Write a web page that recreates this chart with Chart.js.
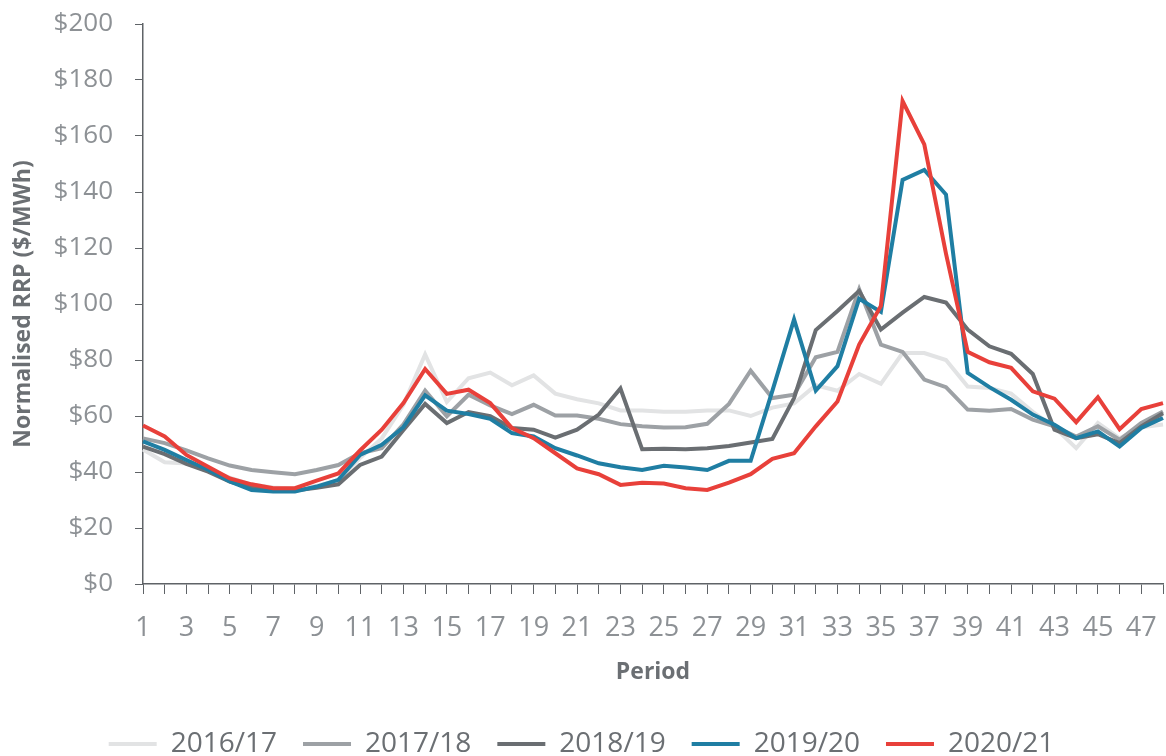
<!DOCTYPE html>
<html>
<head>
<meta charset="utf-8">
<script src="https://cdn.jsdelivr.net/npm/chart.js@4"></script>
<style>
  html, body { margin: 0; padding: 0; background: #fff; }
  #wrap { width: 1166px; height: 756px; }
</style>
</head>
<body>
<div id="wrap"><canvas id="myChart" width="1166" height="756"></canvas></div>
<script>
const periods = [];
for (let i = 1; i <= 48; i++) periods.push(String(i));

const seriesNames = ['2016/17', '2017/18', '2018/19', '2019/20', '2020/21'];
const seriesColors = ['#e2e3e4', '#9da1a5', '#6a6e72', '#1f7ea3', '#e8403a'];
const yTicks = [0, 20, 40, 60, 80, 100, 120, 140, 160, 180, 200];

const p1617 = [48, 43.5, 43, 41, 38, 35.5, 34.5, 34, 35, 37,
  45, 52, 64, 82, 65, 73.5, 75.5, 71, 74.5, 68,
  66, 64.5, 62, 62, 61.5, 61.5, 62, 62, 60, 63,
  64.5, 71, 69, 75, 71.5, 82.5, 82.5, 80, 70.5, 70,
  68, 61.5, 56, 48.5, 57.5, 52, 56, 57];
const p1718 = [52, 50.3, 47.7, 44.9, 42.3, 40.7, 39.9, 39.2, 40.7, 42.5,
  46.7, 48.5, 57, 69.1, 59.9, 67.6, 63.8, 60.7, 64, 60.2,
  60.2, 59, 57.1, 56.3, 55.9, 56, 57.2, 64.3, 76.2, 66.4,
  67.6, 81, 82.9, 105.3, 85.5, 82.9, 73, 70.3, 62.3, 61.9,
  62.5, 58.7, 56.3, 52.7, 56.3, 51.5, 57.5, 61.6];
const p1819 = [49.1, 46.4, 42.9, 40.1, 36.6, 34.4, 33.4, 33.4, 34.4, 35.6,
  42.5, 45.5, 55, 64.3, 57.5, 61.4, 59.9, 55.7, 55.1, 52.3,
  55.1, 60.5, 69.8, 48.1, 48.3, 48.1, 48.5, 49.3, 50.5, 51.8,
  66.4, 90.7, 97.5, 104.7, 90.9, 96.9, 102.5, 100.5, 90.9, 84.9,
  82.2, 75, 55.1, 52.1, 53.5, 50.3, 56.3, 61];
const p1920 = [50.9, 47.9, 44.3, 40.8, 36.6, 33.6, 33, 33, 34.8, 37.2,
  46.1, 49.7, 56, 67.4, 61.9, 60.7, 59, 53.9, 52.7, 48.5,
  45.9, 43.1, 41.7, 40.7, 42.2, 41.6, 40.7, 44, 44, 69,
  94.5, 69.1, 77.8, 101.9, 97.2, 144.3, 147.9, 139.1, 75.4, 70.3,
  65.8, 60.5, 56.9, 52.1, 54.5, 49.1, 55.7, 59.3];
const p2021 = [56.6, 52.7, 46.1, 41.9, 37.7, 35.6, 34.2, 34.2, 36.9, 39.5,
  47.7, 55.1, 64.6, 76.8, 67.9, 69.4, 64.6, 55.7, 52.1, 46.7,
  41.3, 39.2, 35.4, 36.2, 35.9, 34.2, 33.6, 36.2, 39.2, 44.7,
  46.7, 56.3, 65.2, 85.5, 99.3, 172.5, 157, 118, 82.9, 79.2,
  77.2, 68.8, 66.2, 57.8, 66.7, 55.3, 62.5, 64.6];

const allSeries = [p1617, p1718, p1819, p1920, p2021];

const axisColor = '#5f6367';
const tickColor = '#8d9195';
const titleColor = '#6b6f73';

const datasets = allSeries.map((vals, i) => ({
  label: seriesNames[i],
  data: vals,
  borderColor: seriesColors[i],
  backgroundColor: seriesColors[i],
  borderWidth: 4,
  pointRadius: 0,
  pointStyle: 'line',
  tension: 0,
  order: seriesNames.length - i
}));

const ctx = document.getElementById('myChart').getContext('2d');
new Chart(ctx, {
  type: 'line',
  data: { labels: periods, datasets: datasets },
  options: {
    responsive: false,
    animation: false,
    layout: { padding: { top: 24, right: 3, left: 0, bottom: -12 } },
    plugins: {
      tooltip: { enabled: false },
      legend: {
        position: 'bottom',
        labels: {
          usePointStyle: true,
          pointStyleWidth: 48,
          padding: 26,
          color: titleColor,
          font: { family: 'Open Sans', size: 28 },
          sort: (a, b) => a.datasetIndex - b.datasetIndex
        }
      }
    },
    scales: {
      x: {
        offset: false,
        grid: { display: true, drawOnChartArea: false, drawTicks: true, tickLength: 10, color: axisColor, lineWidth: 1 },
        border: { display: true, color: axisColor, width: 1.5 },
        ticks: {
          autoSkip: false,
          maxRotation: 0,
          padding: 18,
          color: tickColor,
          font: { family: 'Open Sans', size: 27 },
          callback: (v, i) => (i % 2 === 0 ? periods[i] : '')
        },
        title: {
          display: true,
          text: 'Period',
          color: titleColor,
          font: { family: 'Open Sans', size: 23, weight: 'bold' },
          padding: { top: 10, bottom: 18 }
        },
        afterFit: (scale) => {
          scale.height = 120;
          scale.paddingLeft = 0;
          scale.paddingRight = 0;
        }
      },
      y: {
        min: 0,
        max: 200,
        afterBuildTicks: (scale) => { scale.ticks = yTicks.map(v => ({ value: v })); },
        grid: { display: true, drawOnChartArea: false, drawTicks: true, tickLength: 8, color: axisColor, lineWidth: 1 },
        border: { display: true, color: axisColor, width: 1.5 },
        ticks: {
          padding: 22,
          color: tickColor,
          font: { family: 'Open Sans', size: 26 },
          callback: (v) => '$' + v
        },
        title: {
          display: true,
          text: 'Normalised RRP ($/MWh)',
          color: titleColor,
          font: { family: 'Open Sans', size: 23, weight: 'bold' },
          padding: { top: 10, bottom: 8 }
        },
        afterFit: (scale) => {
          scale.width = 143;
          scale.paddingTop = 0;
          scale.paddingBottom = 0;
        }
      }
    }
  }
});
</script>
</body>
</html>
